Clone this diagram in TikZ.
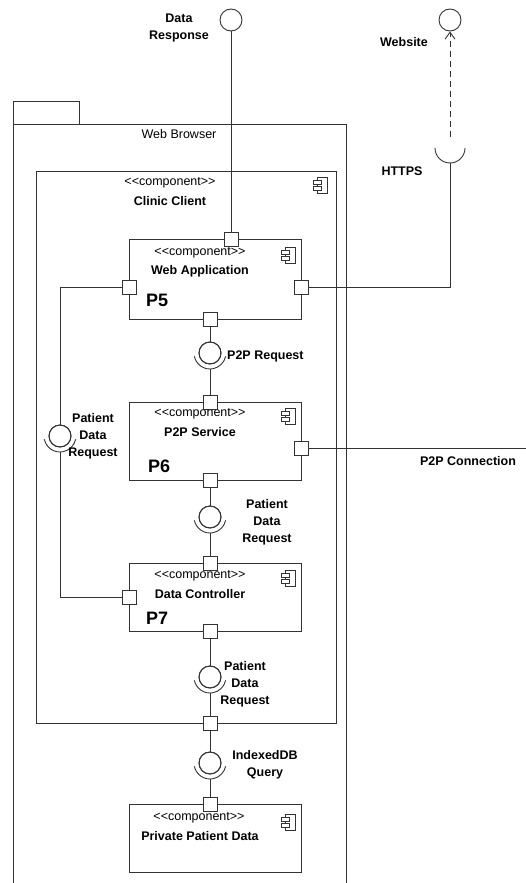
\documentclass[tikz,border=0pt]{standalone}
\usepackage{fontspec}
\setmainfont{Liberation Sans}
\usetikzlibrary{arrows.meta}
\begin{document}
\begin{tikzpicture}[x=1pt,y=-1pt,
  ln/.style={draw=black!80, line width=0.9pt},
  txt/.style={font=\fontsize{12.5}{17}\selectfont, inner sep=0},
  lbl/.style={font=\fontsize{12.5}{17}\selectfont\bfseries, align=center, inner sep=0},
  plbl/.style={font=\fontsize{18}{20}\selectfont\bfseries, anchor=west, inner sep=0},
  comp/.style={ln, fill=white, rectangle, inner sep=0},
  port/.style={ln, fill=white, rectangle, minimum size=14pt, inner sep=0},
  ball/.style={ln, fill=white, circle, minimum size=22pt, inner sep=0},
  compicon/.pic={
    \draw[ln, line width=0.8pt, fill=white] (-3,-8) rectangle (7,8);
    \draw[ln, line width=0.8pt, fill=white] (-7,-5) rectangle (1,-1);
    \draw[ln, line width=0.8pt, fill=white] (-7,1) rectangle (1,5);
  }
]
\fill[white] (0,0) rectangle (526,883);
\useasboundingbox (0,0) rectangle (526,883);

% Web Browser package
\draw[ln] (13,124) rectangle (79,101);
\draw[ln] (13,883) -- (13,124) -- (346,124) -- (346,883);
\node[txt] (wbl) at (179,134) {Web Browser};

% Clinic Client
\node[comp, minimum width=300pt, minimum height=552pt] (cc) at (186,447) {};
\node[txt] (ccst) at (170,183) {<\kern0pt<component>\kern0pt>};
\node[lbl] (ccnm) at (170,201) {Clinic Client};
\pic at (320,185) {compicon};

% external interfaces
\node[ball] (dresp) at (231,20) {};
\node[lbl] (dresplbl) at (179,28) {Data\\Response};
\node[ball] (website) at (450,20) {};
\node[lbl] (weblbl) at (404,42) {Website};
\coordinate (httpsc) at (450,148);
\coordinate (httpsb) at (450,163);
\coordinate (httpst) at (450,137);
\draw[ln] ([shift={(180:15pt)}]httpsc) arc[start angle=180, end angle=360, radius=15pt];
\node[lbl] (httpslbl) at (402,171) {HTTPS};
\draw[ln, dash pattern=on 6pt off 4pt, -{Straight Barb[length=7pt,width=10pt]}] (httpst) -- (website.south);

% components
\node[comp, minimum width=172pt, minimum height=80pt] (wa) at (215,279) {};
\node[txt] (wast) at (200,253) {<\kern0pt<component>\kern0pt>};
\node[lbl] (wanm) at (200,271) {Web Application};
\node[plbl] (p5) at (146,300) {P5};
\pic at (288,255) {compicon};

\node[comp, minimum width=172pt, minimum height=78pt] (ps) at (215,441) {};
\node[txt] (psst) at (200,414) {<\kern0pt<component>\kern0pt>};
\node[lbl] (psnm) at (200,432) {P2P Service};
\node[plbl] (p6) at (148,466) {P6};
\pic at (288,416) {compicon};

\node[comp, minimum width=172pt, minimum height=68pt] (dc) at (215,597) {};
\node[txt] (dcst) at (200,576) {<\kern0pt<component>\kern0pt>};
\node[lbl] (dcnm) at (200,594) {Data Controller};
\node[plbl] (p7) at (146,618) {P7};
\pic at (288,578) {compicon};

\node[comp, minimum width=172pt, minimum height=68pt] (pp) at (215,838) {};
\node[txt] (ppst) at (199,818) {<\kern0pt<component>\kern0pt>};
\node[lbl] (ppnm) at (200,836) {Private Patient Data};
\pic at (288,822) {compicon};

% assembly balls and socket centres
\node[ball] (b1) at (210,353) {};
\coordinate (s1) at (210,353);
\coordinate (s1b) at (210,369);
\node[ball] (b2) at (60,436) {};
\coordinate (s2) at (60,436);
\coordinate (s2b) at (60,452);
\node[ball] (b3) at (210,517) {};
\coordinate (s3) at (210,517);
\coordinate (s3b) at (210,533);
\node[ball] (b4) at (210,677) {};
\coordinate (s4) at (210,677);
\coordinate (s4b) at (210,693);
\node[ball] (b5) at (210,763) {};
\coordinate (s5) at (210,763);
\coordinate (s5b) at (210,779);
\foreach \s in {s1,s2,s3,s4,s5}{
  \draw[ln] ([shift={(192:16pt)}]\s) arc[start angle=192, end angle=348, radius=16pt];
}

% corner coordinates
\coordinate (lt) at (60,287);
\coordinate (lb) at (60,597);
\coordinate (hc) at (450,287);
\coordinate (p2pend) at (526,448);

% connectors
\draw[ln] (dresp.south) -- (231,239);
\draw[ln] (httpsb) -- (hc) -- (301,287);
\draw[ln] (129,287) -- (lt) -- (b2.north);
\draw[ln] (s2b) -- (lb) -- (129,597);
\draw[ln] (210,319) -- (b1.north);
\draw[ln] (s1b) -- (210,402);
\draw[ln] (301,448) -- (p2pend);
\draw[ln] (210,480) -- (b3.north);
\draw[ln] (s3b) -- (210,563);
\draw[ln] (210,631) -- (b4.north);
\draw[ln] (s4b) -- (210,723);
\draw[ln] (210,723) -- (b5.north);
\draw[ln] (s5b) -- (210,804);

% redraw balls on top
\foreach \b in {b1,b2,b3,b4,b5}{ \draw[ln] (\b) circle[radius=11pt]; }

% ports
\node[port] (wat) at (231,239) {};
\node[port] (wal) at (129,287) {};
\node[port] (war) at (301,287) {};
\node[port] (wab) at (210,319) {};
\node[port] (pst) at (210,402) {};
\node[port] (psr) at (301,448) {};
\node[port] (psb) at (210,480) {};
\node[port] (dct) at (210,563) {};
\node[port] (dcl) at (129,597) {};
\node[port] (dcb) at (210,631) {};
\node[port] (ccb) at (210,723) {};
\node[port] (ppt) at (210,804) {};

% interface labels
\node[lbl, anchor=west] (p2preq) at (227,356) {P2P Request};
\node[lbl] (pdr1) at (93,436) {Patient\\Data\\Request};
\node[lbl] (p2pconn) at (468,461) {P2P Connection};
\node[lbl] (pdr2) at (267,522) {Patient\\Data\\Request};
\node[lbl] (pdr3) at (245,684) {Patient\\Data\\Request};
\node[lbl] (idb) at (265,765) {IndexedDB\\Query};
\end{tikzpicture}
\end{document}
